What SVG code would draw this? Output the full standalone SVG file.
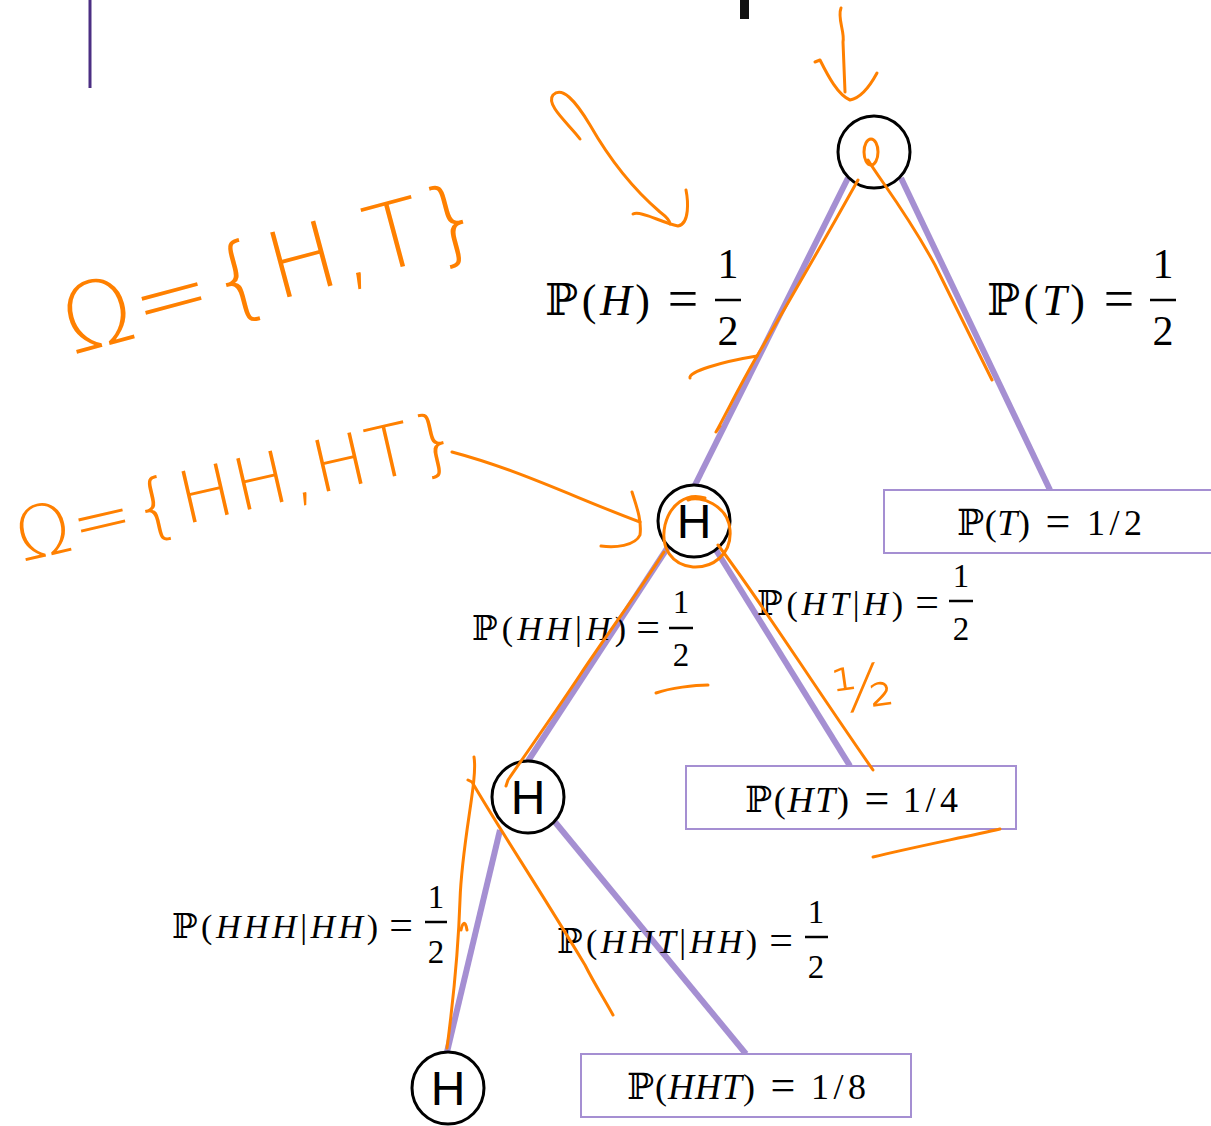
<svg xmlns="http://www.w3.org/2000/svg" width="1211" height="1126" viewBox="0 0 1211 1126">
<style>
.edge{stroke:#a58fd2;stroke-width:6;fill:none}
.box{fill:#fff;stroke:#a58fd2;stroke-width:2}
.node{fill:#fff;stroke:#000;stroke-width:3}
.nl{font-family:"Liberation Sans",Arial,sans-serif;font-size:48px;fill:#000;text-anchor:middle}
.m{font-family:"Liberation Serif","DejaVu Serif",serif;fill:#000}
.c{text-anchor:middle}
.i{font-style:italic}
.fb{stroke:#000;stroke-width:2.5}
.ink{fill:none;stroke:#ff8000;stroke-width:3;stroke-linecap:round;stroke-linejoin:round}
.hw{font-family:"DejaVu Sans","Liberation Sans",sans-serif;fill:#ff8000;font-weight:300}
</style>
<rect width="1211" height="1126" fill="#fff"/>
<line x1="90" y1="0" x2="90" y2="88" stroke="#4b2e83" stroke-width="3"/>
<rect x="740" y="0" width="9" height="19" fill="#111"/>

<g id="connectors">
<line class="edge" x1="848" y1="178" x2="694" y2="487"/>
<line class="edge" x1="901" y1="178" x2="1050" y2="490"/>
<line class="edge" x1="668" y1="547" x2="528" y2="761"/>
<line class="edge" x1="716" y1="550" x2="850" y2="766"/>
<line class="edge" x1="500" y1="830" x2="447" y2="1052"/>
<line class="edge" x1="555" y1="822" x2="746" y2="1054"/>
</g>

<g id="root"><circle class="node" cx="874" cy="152" r="36"/></g>
<g id="h1"><circle class="node" cx="694" cy="521" r="36"/><text class="nl" x="694" y="538">H</text></g>
<g id="h2"><circle class="node" cx="528" cy="797" r="36"/><text class="nl" x="528" y="814">H</text></g>
<g id="h3"><circle class="node" cx="448" cy="1088" r="36"/><text class="nl" x="448" y="1105">H</text></g>

<g id="boxT"><rect class="box" x="884" y="490" width="335" height="63"/>
<text class="m" x="957" y="535" font-size="36" textLength="73" lengthAdjust="spacing">ℙ(<tspan class="i">T</tspan>)</text>
<text class="m c" x="1058" y="536" font-size="44">=</text>
<text class="m" x="1087" y="535" font-size="36" textLength="55" lengthAdjust="spacing">1/2</text></g>
<g id="boxHT"><rect class="box" x="686" y="766" width="330" height="63"/>
<text class="m" x="745" y="812" font-size="36" textLength="104" lengthAdjust="spacing">ℙ(<tspan class="i">HT</tspan>)</text>
<text class="m c" x="877" y="813" font-size="44">=</text>
<text class="m" x="903" y="812" font-size="36" textLength="55" lengthAdjust="spacing">1/4</text></g>
<g id="boxHHT"><rect class="box" x="581" y="1054" width="330" height="63"/>
<text class="m" x="627" y="1099" font-size="36" textLength="128" lengthAdjust="spacing">ℙ(<tspan class="i">HHT</tspan>)</text>
<text class="m c" x="783" y="1100" font-size="44">=</text>
<text class="m" x="811" y="1099" font-size="36" textLength="55" lengthAdjust="spacing">1/8</text></g>

<g id="labels">
<text class="m" x="545" y="315" font-size="44" textLength="105" lengthAdjust="spacing">ℙ(<tspan class="i">H</tspan>)</text>
<text class="m c" x="683" y="317" font-size="54">=</text>
<text class="m c" x="728" y="278" font-size="42">1</text>
<line class="fb" x1="715" y1="300" x2="741" y2="300"/>
<text class="m c" x="728" y="345" font-size="42">2</text>

<text class="m" x="987" y="315" font-size="44" textLength="98" lengthAdjust="spacing">ℙ(<tspan class="i">T</tspan>)</text>
<text class="m c" x="1119" y="317" font-size="54">=</text>
<text class="m c" x="1163" y="278" font-size="42">1</text>
<line class="fb" x1="1150" y1="300" x2="1176" y2="300"/>
<text class="m c" x="1163" y="345" font-size="42">2</text>

<text class="m" x="472" y="640" font-size="34" textLength="154" lengthAdjust="spacing">ℙ(<tspan class="i">HH</tspan>|<tspan class="i">H</tspan>)</text>
<text class="m c" x="648" y="641" font-size="42">=</text>
<text class="m c" x="681" y="613" font-size="33">1</text>
<line class="fb" x1="669" y1="628" x2="693" y2="628"/>
<text class="m c" x="681" y="666" font-size="33">2</text>

<text class="m" x="757" y="615" font-size="34" textLength="146" lengthAdjust="spacing">ℙ(<tspan class="i">HT</tspan>|<tspan class="i">H</tspan>)</text>
<text class="m c" x="927" y="616" font-size="42">=</text>
<text class="m c" x="961" y="587" font-size="33">1</text>
<line class="fb" x1="949" y1="601" x2="973" y2="601"/>
<text class="m c" x="961" y="640" font-size="33">2</text>

<text class="m" x="172" y="938" font-size="34" textLength="206" lengthAdjust="spacing">ℙ(<tspan class="i">HHH</tspan>|<tspan class="i">HH</tspan>)</text>
<text class="m c" x="401" y="939" font-size="42">=</text>
<text class="m c" x="436" y="908" font-size="33">1</text>
<line class="fb" x1="425" y1="922" x2="447" y2="922"/>
<text class="m c" x="436" y="963" font-size="33">2</text>

<text class="m" x="557" y="953" font-size="34" textLength="200" lengthAdjust="spacing">ℙ(<tspan class="i">HHT</tspan>|<tspan class="i">HH</tspan>)</text>
<text class="m c" x="781" y="954" font-size="42">=</text>
<text class="m c" x="816" y="923" font-size="33">1</text>
<line class="fb" x1="805" y1="937" x2="828" y2="937"/>
<text class="m c" x="816" y="978" font-size="33">2</text>
</g>

<g id="annotations">
<text class="hw" font-size="92" letter-spacing="2" transform="translate(72,355) rotate(-15)">Ω={H,T}</text>
<text class="hw" font-size="72" letter-spacing="2" transform="translate(22,562) rotate(-13)">Ω={HH,HT}</text>
<text class="hw" font-size="62" transform="translate(836,714) rotate(-8)">½</text>
<path class="ink" d="M841,8 C837,18 845,32 843,42 L845,92"/>
<path class="ink" d="M815,62 L820,60 C828,76 838,95 850,100 C861,98 870,86 877,73"/>
<ellipse class="ink" cx="871" cy="152" rx="7" ry="13"/>
<path class="ink" d="M868,160 C880,180 905,210 935,265 C955,305 975,345 992,380"/>
<path class="ink" d="M858,180 C830,230 790,300 757,356 C740,385 728,410 716,432 L720,426"/>
<path class="ink" d="M690,378 C688,372 720,362 757,356"/>
<path class="ink" d="M580,139 C570,125 545,105 553,95 C562,86 575,100 590,125 C610,160 632,188 660,212 C668,218 670,222 670,224"/>
<path class="ink" d="M633,214 C640,210 660,222 678,226 C690,224 688,200 686,190"/>
<path class="ink" d="M452,452 C520,470 580,500 640,522"/>
<path class="ink" d="M601,546 C615,548 635,546 640,535 C642,520 636,505 632,492"/>
<path class="ink" d="M688,500 C700,495 728,505 730,530 C732,555 712,568 693,567 C672,565 660,548 665,525 C670,505 686,492 705,498"/>
<path class="ink" d="M664,552 C640,590 610,630 580,675 C550,720 525,755 508,780 L506,786"/>
<path class="ink" d="M718,545 C760,600 810,680 873,770"/>
<path class="ink" d="M656,693 C670,688 695,685 708,685"/>
<path class="ink" d="M873,857 C910,848 960,838 1000,829"/>
<path class="ink" d="M474,757 C478,780 462,840 460,900 C458,960 452,1010 447,1048"/>
<path class="ink" d="M461,930 C462,925 465,918 467,930"/>
<path class="ink" d="M468,780 L472,782 C500,830 540,890 585,965 C595,985 605,1000 613,1015"/>
</g>
</svg>
